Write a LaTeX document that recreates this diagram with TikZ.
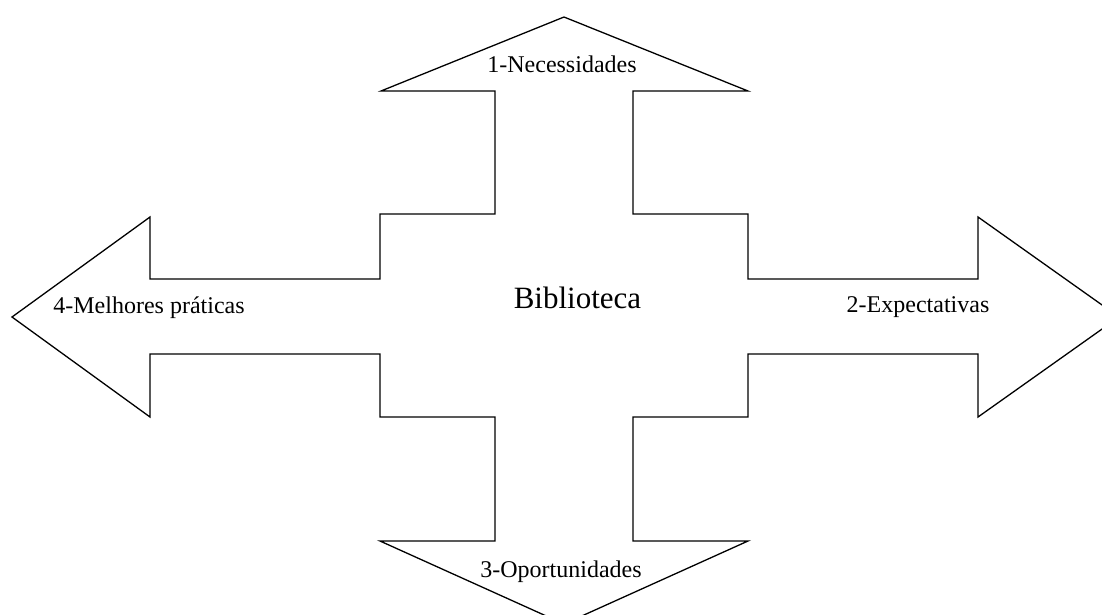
\documentclass[tikz,border=0pt]{standalone}
\usepackage{fontspec}
\setmainfont{Liberation Serif}
\begin{document}
\begin{tikzpicture}[x=1pt,y=-1pt,
  lbl/.style={font=\fontsize{24}{28}\selectfont, anchor=base, inner sep=0pt},
  big/.style={font=\fontsize{31}{36}\selectfont, anchor=base, inner sep=0pt}]
\useasboundingbox (0,0) rectangle (1102,614);
\clip (0,0) rectangle (1102,614);
\draw[line width=1.3pt, line join=miter]
 (564,17) -- (748,91) -- (633,91) -- (633,214) -- (748,214) -- (748,279)
 -- (978,279) -- (978,217) -- (1119,317) -- (978,417) -- (978,354)
 -- (748,354) -- (748,417) -- (633,417) -- (633,541) -- (748,541)
 -- (564,624) -- (380,541) -- (495,541) -- (495,417) -- (380,417)
 -- (380,354) -- (150,354) -- (150,417) -- (12,317) -- (150,217)
 -- (150,279) -- (380,279) -- (380,214) -- (495,214) -- (495,91)
 -- (381,91) -- cycle;
\node[big] (bib) at (577.5,308) {Biblioteca};
\node[lbl] (nec) at (562,72) {1-Necessidades};
\node[lbl] (exp) at (918,312) {2-Expectativas};
\node[lbl] (opo) at (561,577) {3-Oportunidades};
\node[lbl] (mel) at (149,313) {4-Melhores práticas};
\end{tikzpicture}
\end{document}
